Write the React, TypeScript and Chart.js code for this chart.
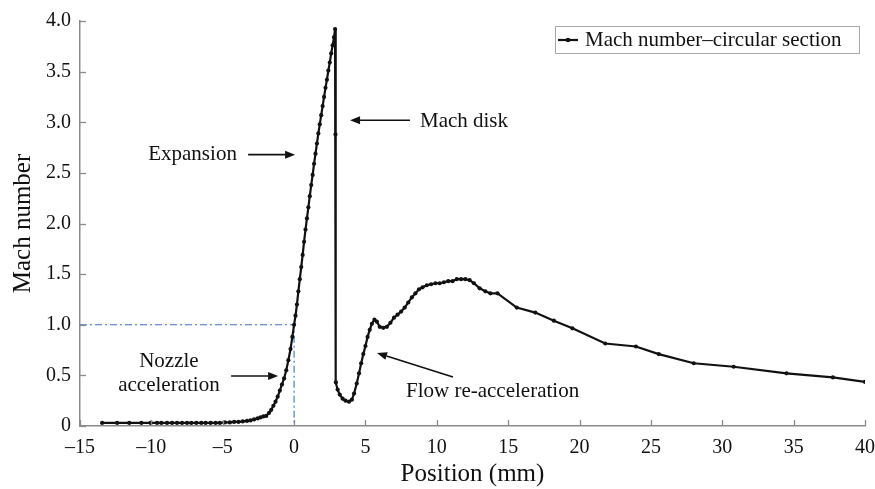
import React, { useEffect, useRef } from "react";
import { Chart, registerables } from "chart.js";

Chart.register(...registerables);

const seriesLabel = "Mach number\u2013circular section";

const positionMm = [
  -13.45, -12.4, -11.55, -10.7, -10.05, -9.6, -9.3, -8.9, -8.55, -8.2, -7.85, -7.5, -7.2, -6.85,
  -6.5, -6.2, -5.85, -5.5, -5.2, -4.85, -4.5, -4.2, -3.9, -3.6, -3.3, -3.05, -2.8, -2.55, -2.35,
  -2.15, -1.95, -1.75, -1.6, -1.45, -1.3, -1.15, -1.0, -0.85, -0.7, -0.55, -0.4, -0.25, -0.12, 0.0,
  0.1, 0.2, 0.3, 0.4, 0.5, 0.6, 0.7, 0.8, 0.9, 1.0, 1.1, 1.2, 1.3, 1.4, 1.5, 1.6, 1.7, 1.8, 1.9,
  2.0, 2.1, 2.2, 2.3, 2.4, 2.5, 2.6, 2.7, 2.8, 2.87, 2.9, 2.93,
  3.05, 3.2, 3.4, 3.6, 3.85, 4.05, 4.2, 4.39, 4.55, 4.7, 4.85, 5.0, 5.15, 5.3, 5.45, 5.63, 5.8,
  6.0, 6.25, 6.5, 6.75, 7.0, 7.25, 7.5, 7.75, 8.0, 8.25, 8.5, 8.75, 9.0, 9.3, 9.6, 9.9, 10.2,
  10.5, 10.8, 11.1, 11.4, 11.7, 12.0, 12.3, 12.6, 13.0, 13.4, 13.75, 14.25, 15.6, 16.9, 18.2,
  19.5, 21.8, 23.95, 25.55, 28.0, 30.8, 34.5, 37.75, 40.0,
];

const machNumber = [
  0.03, 0.03, 0.03, 0.03, 0.03, 0.03, 0.03, 0.03, 0.03, 0.03, 0.03, 0.03, 0.03, 0.03,
  0.03, 0.03, 0.03, 0.03, 0.03, 0.035, 0.035, 0.04, 0.04, 0.045, 0.05, 0.055, 0.065, 0.075, 0.085,
  0.095, 0.1, 0.13, 0.16, 0.2, 0.24, 0.29, 0.35, 0.41, 0.47, 0.55, 0.65, 0.76, 0.88, 1.0,
  1.09, 1.2, 1.33, 1.45, 1.57, 1.69, 1.82, 1.94, 2.05, 2.16, 2.27, 2.38, 2.48, 2.59, 2.69, 2.79,
  2.89, 2.98, 3.07, 3.16, 3.25, 3.34, 3.42, 3.51, 3.59, 3.68, 3.76, 3.84, 3.92, 2.88, 0.43,
  0.36, 0.31, 0.27, 0.25, 0.24, 0.26, 0.32, 0.42, 0.52, 0.62, 0.71, 0.79, 0.88, 0.95, 1.01, 1.05,
  1.03, 0.98, 0.97, 0.98, 1.02, 1.07, 1.1, 1.13, 1.17, 1.22, 1.27, 1.31, 1.35, 1.37, 1.39, 1.4,
  1.41, 1.41, 1.42, 1.43, 1.43, 1.45, 1.45, 1.45, 1.44, 1.41, 1.36, 1.33, 1.31, 1.31, 1.17, 1.12,
  1.04, 0.965, 0.815, 0.785, 0.71, 0.62, 0.585, 0.52, 0.48, 0.435,
];

const sonicX = [-15, 0, 0];
const sonicY = [1, 1, 0];

const xTicks = [-15, -10, -5, 0, 5, 10, 15, 20, 25, 30, 35, 40];
const yTicks = [0, 0.5, 1.0, 1.5, 2.0, 2.5, 3.0, 3.5, 4.0];

const xTitle = "Position (mm)";
const yTitle = "Mach number";

const noteTexts = ["Expansion", "Mach disk", "Nozzle", "acceleration", "Flow re-acceleration"];
const noteX = [-10.22, 8.82, -8.77, -8.77, 7.84];
const noteY = [2.68, 3.01, 0.642, 0.405, 0.336];
const noteAlign = ["left", "left", "center", "center", "left"];

const arrowFromX = [-3.22, 8.12, -4.41, 11.13];
const arrowFromY = [2.68, 3.02, 0.494, 0.484];
const arrowToX = [0.07, 3.92, -1.12, 5.81];
const arrowToY = [2.68, 3.02, 0.494, 0.721];

const SERIF = "'Liberation Serif', 'Times New Roman', serif";

const overlayPlugin = {
  id: "overlay",
  afterDatasetsDraw(chart: any) {
    const { ctx, chartArea } = chart;
    const xs = chart.scales.x;
    const ys = chart.scales.y;
    ctx.save();
    // inner tick marks
    ctx.strokeStyle = "#8a8a8a";
    ctx.lineWidth = 1.3;
    xTicks.forEach((v) => {
      const px = Math.round(xs.getPixelForValue(v)) + 0.5;
      ctx.beginPath();
      ctx.moveTo(px, chartArea.bottom);
      ctx.lineTo(px, chartArea.bottom - 6);
      ctx.stroke();
    });
    yTicks.forEach((v) => {
      const py = Math.round(ys.getPixelForValue(v)) + 0.5;
      ctx.beginPath();
      ctx.moveTo(chartArea.left, py);
      ctx.lineTo(chartArea.left + 6, py);
      ctx.stroke();
    });

    // notes
    ctx.fillStyle = "#111";
    ctx.font = `21px ${SERIF}`;
    ctx.textBaseline = "middle";
    noteTexts.forEach((t, i) => {
      ctx.textAlign = noteAlign[i] as CanvasTextAlign;
      ctx.fillText(t, xs.getPixelForValue(noteX[i]), ys.getPixelForValue(noteY[i]));
    });

    // arrows
    ctx.strokeStyle = "#111";
    ctx.lineWidth = 1.6;
    arrowFromX.forEach((_, i) => {
      const x1 = xs.getPixelForValue(arrowFromX[i]);
      const y1 = ys.getPixelForValue(arrowFromY[i]);
      const x2 = xs.getPixelForValue(arrowToX[i]);
      const y2 = ys.getPixelForValue(arrowToY[i]);
      const ang = Math.atan2(y2 - y1, x2 - x1);
      const hl = 10;
      const hw = 4;
      const bx = x2 - hl * Math.cos(ang);
      const by = y2 - hl * Math.sin(ang);
      ctx.beginPath();
      ctx.moveTo(x1, y1);
      ctx.lineTo(bx, by);
      ctx.stroke();
      ctx.beginPath();
      ctx.moveTo(x2, y2);
      ctx.lineTo(bx + hw * Math.sin(ang), by - hw * Math.cos(ang));
      ctx.lineTo(bx - hw * Math.sin(ang), by + hw * Math.cos(ang));
      ctx.closePath();
      ctx.fill();
    });

    // legend
    const lw = 304;
    const lh = 27;
    const lx = chartArea.right - 6 - lw;
    const ly = chartArea.top + 5;
    ctx.fillStyle = "#fff";
    ctx.fillRect(lx, ly, lw, lh);
    ctx.strokeStyle = "#a8a8a8";
    ctx.lineWidth = 1;
    ctx.strokeRect(lx + 0.5, ly + 0.5, lw, lh);
    const cy = ly + lh / 2 + 0.5;
    ctx.strokeStyle = "#111";
    ctx.lineWidth = 2.2;
    ctx.beginPath();
    ctx.moveTo(lx + 3, cy);
    ctx.lineTo(lx + 23, cy);
    ctx.stroke();
    ctx.fillStyle = "#111";
    ctx.beginPath();
    ctx.arc(lx + 13, cy, 2.3, 0, Math.PI * 2);
    ctx.fill();
    ctx.font = `21px ${SERIF}`;
    ctx.textAlign = "left";
    ctx.textBaseline = "middle";
    ctx.fillText(seriesLabel, lx + 30, cy);
    ctx.restore();
  },
};

export default function App() {
  const ref = useRef<HTMLCanvasElement | null>(null);
  useEffect(() => {
    if (!ref.current) return;
    const chart = new Chart(ref.current, {
      type: "line",
      data: {
        datasets: [
          {
            label: seriesLabel,
            data: positionMm.map((x, i) => ({ x, y: machNumber[i] })),
            borderColor: "#111",
            backgroundColor: "#111",
            borderWidth: 2.2,
            pointRadius: 2.1,
            pointBorderWidth: 0,
            pointBackgroundColor: "#111",
            tension: 0,
            order: 1,
          },
          {
            label: "sonic",
            data: sonicX.map((x, i) => ({ x, y: sonicY[i] })),
            borderColor: "#3c6fd4",
            borderWidth: 1.1,
            borderDash: [7, 3, 2, 3],
            pointRadius: 0,
            tension: 0,
            order: 2,
          },
        ],
      },
      options: {
        responsive: false,
        animation: false,
        events: [],
        layout: { padding: { top: 21, right: 10, left: 0, bottom: 0 } },
        plugins: { legend: { display: false }, tooltip: { enabled: false } },
        scales: {
          x: {
            type: "linear",
            min: -15,
            max: 40,
            afterBuildTicks: (s: any) => {
              s.ticks = xTicks.map((v) => ({ value: v }));
            },
            afterFit: (s: any) => {
              s.height = 63;
              s.paddingRight = 0;
              s.paddingLeft = 0;
            },
            grid: { display: true, drawOnChartArea: false, drawTicks: false },
            border: { display: true, color: "#8a8a8a", width: 1.5 },
            ticks: {
              padding: 10,
              color: "#111",
              font: { family: SERIF, size: 20 },
              maxRotation: 0,
              autoSkip: false,
              callback: (v: any) => (v < 0 ? "\u2013" + Math.abs(v) : String(v)),
            },
            title: {
              display: true,
              text: xTitle,
              color: "#111",
              font: { family: SERIF, size: 25 },
              padding: { top: 0, bottom: 0 },
            },
          },
          y: {
            type: "linear",
            min: 0,
            max: 4,
            afterBuildTicks: (s: any) => {
              s.ticks = yTicks.map((v) => ({ value: v }));
            },
            afterFit: (s: any) => {
              s.width = 80;
              s.paddingTop = 0;
              s.paddingBottom = 0;
            },
            grid: { display: true, drawOnChartArea: false, drawTicks: false },
            border: { display: true, color: "#8a8a8a", width: 1.5 },
            ticks: {
              padding: 9,
              color: "#111",
              font: { family: SERIF, size: 20 },
              autoSkip: false,
              callback: (v: any) => (v === 0 ? "0" : Number(v).toFixed(1)),
            },
            title: {
              display: true,
              text: yTitle,
              color: "#111",
              font: { family: SERIF, size: 25 },
              padding: { top: 8, bottom: 0 },
            },
          },
        },
      },
      plugins: [overlayPlugin],
    } as any);
    return () => chart.destroy();
  }, []);
  return (
    <div style={{ position: "fixed", left: 0, top: 0, width: 875, height: 489, background: "#fff" }}>
      <canvas ref={ref} width={875} height={489} style={{ display: "block" }} />
    </div>
  );
}
